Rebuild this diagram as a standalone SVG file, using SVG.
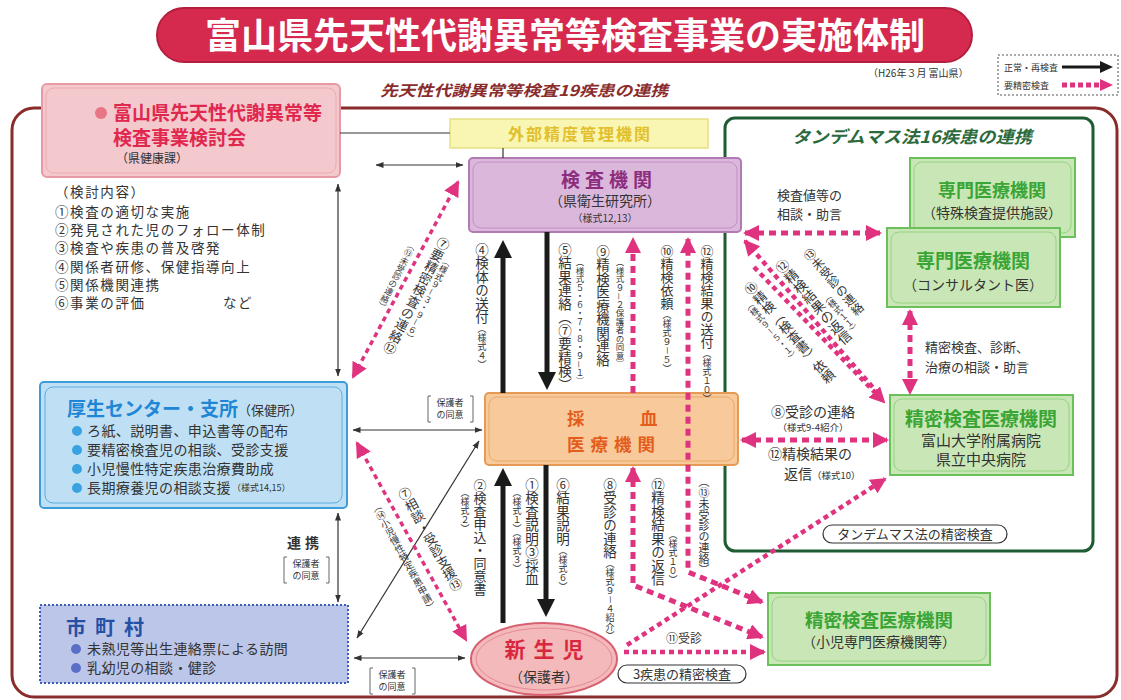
<svg xmlns="http://www.w3.org/2000/svg" width="1121" height="700" viewBox="0 0 1121 700">
<defs>
<style>
text{font-family:"Noto Sans CJK JP","Noto Sans CJK SC",sans-serif}
.v{writing-mode:vertical-rl}
.b{font-weight:bold}
.pk{stroke:#e0337f;stroke-width:5;stroke-dasharray:7 5;fill:none}
.pd{stroke:#e0337f;stroke-width:4.5;stroke-dasharray:5 4;fill:none}
.pl{stroke:#e0337f;stroke-width:3.5;stroke-dasharray:5 4;fill:none}
.th{stroke:#333;stroke-width:1.2;fill:none}
.tk{stroke:#1a1a1a;stroke-width:5;fill:none}
.gb{fill:#c9e7b6;stroke:#6cc05c;stroke-width:2}
.gi{fill:none;stroke:#93d283;stroke-width:1}
.gt{fill:#3aa535;font-weight:bold}
.br{fill:none;stroke:#666;stroke-width:1}
</style>
<marker id="ap" viewBox="0 0 16 16" markerWidth="16" markerHeight="16" refX="14" refY="8" orient="auto-start-reverse" markerUnits="userSpaceOnUse"><path d="M0,0 L16,8 L0,16 z" fill="#e0337f"/></marker>
<marker id="ak" viewBox="0 0 18 18" markerWidth="18" markerHeight="18" refX="2" refY="9" orient="auto-start-reverse" markerUnits="userSpaceOnUse"><path d="M0,0 L18,9 L0,18 z" fill="#1a1a1a"/></marker>
<marker id="at" viewBox="0 0 8 8" markerWidth="8" markerHeight="8" refX="7.5" refY="4" orient="auto-start-reverse" markerUnits="userSpaceOnUse"><path d="M0,1 L8,4 L0,7 z" fill="#333"/></marker>
</defs>
<rect width="1121" height="700" fill="#fff"/>
<g fill="#333">

<g id="title">
<rect x="157" y="8" width="815" height="54" rx="27" fill="#d52a4e" stroke="#b51f3e" stroke-width="2"/>
<text x="565" y="49" text-anchor="middle" font-size="36" class="b" fill="#fff">富山県先天性代謝異常等検査事業の実施体制</text>
</g>

<g id="legend">
<rect x="998" y="55" width="120" height="40" fill="#fff" stroke="#555" stroke-width="1" stroke-dasharray="2 2"/>
<text x="1004" y="71" font-size="9">正常・再検査</text>
<line x1="1062" y1="67" x2="1101" y2="67" stroke="#1a1a1a" stroke-width="3"/>
<polygon points="1100,61 1113,67 1100,73" fill="#1a1a1a"/>
<text x="1004" y="89" font-size="9">要精密検査</text>
<line x1="1062" y1="85" x2="1100" y2="85" stroke="#e0337f" stroke-width="5" stroke-dasharray="5 3"/>
<polygon points="1100,79 1113,85 1100,91" fill="#e0337f"/>
</g>

<text x="868" y="77" font-size="10">（H26年３月 富山県）</text>
<text x="380" y="96" font-size="15" class="b" font-style="italic" fill="#8a2c2c" textLength="288" lengthAdjust="spacingAndGlyphs">先天性代謝異常等検査19疾患の連携</text>

<g id="frame">
<rect x="12" y="108" width="1105" height="589" rx="22" fill="none" stroke="#8a2c2c" stroke-width="3"/>
</g>

<g id="tandem-area">
<rect x="725" y="118" width="368" height="433" rx="10" fill="none" stroke="#1f5c34" stroke-width="3"/>
<text x="792" y="143" font-size="17" class="b" font-style="italic" fill="#2b6a3c" textLength="240" lengthAdjust="spacingAndGlyphs">タンデムマス法16疾患の連携</text>
</g>

<g id="kentoukai">
<rect x="42" y="84" width="298" height="93" rx="5" fill="#f4c9cd" stroke="#e79aa3" stroke-width="2"/>
<rect x="46" y="88" width="290" height="85" rx="8" fill="none" stroke="#eeaab2" stroke-width="1"/>
<circle cx="101" cy="113" r="6" fill="#e87585"/>
<text x="113" y="120" font-size="19" class="b" fill="#e0284f">富山県先天性代謝異常等</text>
<text x="113" y="145" font-size="19" class="b" fill="#e0284f">検査事業検討会</text>
<text x="116" y="163" font-size="12">（県健康課）</text>
</g>

<g id="kentou-naiyou" font-size="13.5" letter-spacing="1.6">
<text x="55" y="197">（検討内容）</text>
<text x="55" y="217">①検査の適切な実施</text>
<text x="55" y="235">②発見された児のフォロー体制</text>
<text x="55" y="253">③検査や疾患の普及啓発</text>
<text x="55" y="272">④関係者研修、保健指導向上</text>
<text x="55" y="290">⑤関係機関連携</text>
<text x="55" y="308">⑥事業の評価</text>
<text x="223" y="308">など</text>
</g>

<g id="gaibu">
<rect x="450" y="119" width="258" height="29" fill="#f9f6b3" stroke="#e7df85" stroke-width="1.5"/>
<text x="580" y="140" font-size="16" letter-spacing="2" text-anchor="middle" class="b" fill="#e2bf2c">外部精度管理機関</text>
</g>

<g id="kensa-kikan">
<rect x="469" y="158" width="272" height="74" rx="4" fill="#dbb7dc" stroke="#b27ab3" stroke-width="2"/>
<rect x="473" y="162" width="264" height="66" rx="8" fill="none" stroke="#c490c5" stroke-width="1"/>
<text x="609" y="187" font-size="19" letter-spacing="5" text-anchor="middle" class="b" fill="#8c2d7e">検査機関</text>
<text x="605" y="206" font-size="14" text-anchor="middle">（県衛生研究所）</text>
<text x="605" y="222" font-size="10" text-anchor="middle">（様式12,13）</text>
</g>

<g id="senmon1">
<rect x="910" y="158" width="165" height="79" class="gb"/>
<rect x="914" y="162" width="157" height="71" rx="8" class="gi"/>
<text x="992" y="197" font-size="18" text-anchor="middle" class="gt">専門医療機関</text>
<text x="992" y="218" font-size="14" text-anchor="middle">（特殊検査提供施設）</text>
</g>

<g id="senmon2">
<rect x="887" y="228" width="173" height="79" class="gb"/>
<rect x="891" y="232" width="165" height="71" rx="8" class="gi"/>
<text x="973" y="268" font-size="19" text-anchor="middle" class="gt">専門医療機関</text>
<text x="973" y="290" font-size="14" text-anchor="middle">（コンサルタント医）</text>
</g>

<g id="seimitsu-tandem">
<rect x="890" y="395" width="183" height="80" class="gb"/>
<rect x="894" y="399" width="175" height="72" rx="8" class="gi"/>
<text x="981" y="426" font-size="19" text-anchor="middle" class="gt">精密検査医療機関</text>
<text x="981" y="446" font-size="15" text-anchor="middle">富山大学附属病院</text>
<text x="981" y="465" font-size="15" text-anchor="middle">県立中央病院</text>
</g>

<g id="tandem-pill">
<rect x="823" y="525" width="184" height="18" rx="9" fill="#fff" stroke="#333" stroke-width="1.2"/>
<text x="915" y="539" font-size="13" text-anchor="middle">タンデムマス法の精密検査</text>
</g>

<g id="seimitsu-shoni">
<rect x="768" y="593" width="222" height="72" class="gb"/>
<rect x="772" y="597" width="214" height="64" rx="8" class="gi"/>
<text x="879" y="627" font-size="18.5" text-anchor="middle" class="gt">精密検査医療機関</text>
<text x="879" y="647" font-size="14" text-anchor="middle">（小児専門医療機関等）</text>
</g>

<g id="three-pill">
<rect x="618" y="665" width="128" height="18" rx="9" fill="#fff" stroke="#333" stroke-width="1.2"/>
<text x="682" y="679" font-size="13" text-anchor="middle">3疾患の精密検査</text>
</g>

<g id="kousei">
<rect x="40" y="382" width="307" height="126" rx="4" fill="#bfe0f4" stroke="#3d9ddb" stroke-width="2"/>
<rect x="45" y="387" width="297" height="116" rx="8" fill="none" stroke="#5aaee0" stroke-width="1"/>
<text x="67" y="416" font-size="19" class="b" fill="#1f86d6">厚生センター・支所</text>
<text x="238" y="415" font-size="13">（保健所）</text>
<g fill="#3aa2e0"><circle cx="77" cy="431" r="5"/><circle cx="77" cy="450" r="5"/><circle cx="77" cy="469" r="5"/><circle cx="77" cy="488" r="5"/></g>
<g font-size="14" letter-spacing="0.4">
<text x="87" y="436">ろ紙、説明書、申込書等の配布</text>
<text x="87" y="455">要精密検査児の相談、受診支援</text>
<text x="87" y="474">小児慢性特定疾患治療費助成</text>
<text x="87" y="493">長期療養児の相談支援</text>
</g>
<text x="232" y="491" font-size="9">（様式14,15）</text>
</g>

<g id="shichoson">
<rect x="40" y="605" width="308" height="78" fill="#bcc6e8" stroke="#3d5cb8" stroke-width="2" stroke-dasharray="2 2"/>
<text x="66" y="635" font-size="20" letter-spacing="9" class="b" fill="#2451a6">市町村</text>
<g fill="#5a70c8"><circle cx="76" cy="649" r="5"/><circle cx="76" cy="668" r="5"/></g>
<text x="87" y="654" font-size="14" letter-spacing="0.4">未熟児等出生連絡票による訪問</text>
<text x="87" y="673" font-size="14" letter-spacing="0.4">乳幼児の相談・健診</text>
</g>

<g id="saiketsu">
<rect x="485" y="393" width="253" height="72" rx="4" fill="#f8c99b" stroke="#e59a55" stroke-width="2"/>
<rect x="489" y="397" width="245" height="64" rx="8" fill="none" stroke="#eaa96a" stroke-width="1"/>
<text x="567" y="425" font-size="17.5" class="b" fill="#e35d1c">採</text>
<text x="640" y="425" font-size="17.5" class="b" fill="#e35d1c">血</text>
<text x="567" y="451" font-size="17.5" letter-spacing="6" class="b" fill="#e35d1c">医療機関</text>
</g>

<g id="shinseiji">
<ellipse cx="544" cy="659" rx="73" ry="36" fill="#f3b9bb" stroke="#d66070" stroke-width="2"/>
<ellipse cx="544" cy="659" rx="68" ry="31" fill="none" stroke="#e48a95" stroke-width="1"/>
<text x="548" y="657" font-size="21" letter-spacing="8" text-anchor="middle" class="b" fill="#d8283d">新生児</text>
<text x="544" y="682" font-size="14" text-anchor="middle">（保護者）</text>
</g>

<g id="connectors">
<line x1="340" y1="133" x2="450" y2="133" class="th"/>
<line x1="503" y1="148" x2="503" y2="158" class="th"/>
<line x1="376" y1="165" x2="463" y2="165" class="th" marker-start="url(#at)" marker-end="url(#at)"/>
<line x1="338" y1="184" x2="338" y2="376" class="th" marker-start="url(#at)" marker-end="url(#at)"/>
<line x1="353" y1="430" x2="482" y2="430" class="th" marker-start="url(#at)" marker-end="url(#at)"/>
<line x1="338" y1="513" x2="338" y2="602" class="th" marker-start="url(#at)" marker-end="url(#at)"/>
<line x1="357" y1="638" x2="479" y2="441" class="th" marker-start="url(#at)" marker-end="url(#at)"/>
<line x1="354" y1="658" x2="465" y2="658" class="th" marker-start="url(#at)" marker-end="url(#at)"/>

<line x1="503" y1="393" x2="503" y2="256" class="tk" marker-end="url(#ak)"/>
<line x1="547" y1="232" x2="547" y2="374" class="tk" marker-end="url(#ak)"/>
<line x1="503" y1="623" x2="503" y2="484" class="tk" marker-end="url(#ak)"/>
<line x1="546" y1="465" x2="546" y2="601" class="tk" marker-end="url(#ak)"/>

<line x1="633" y1="393" x2="633" y2="239" class="pk" marker-end="url(#ap)"/>
<path d="M762,602 L688,572 L688,239" class="pk" marker-start="url(#ap)" marker-end="url(#ap)"/>
<path d="M633,468 L633,585 L762,637" class="pk" marker-start="url(#ap)" marker-end="url(#ap)"/>
<line x1="624" y1="652" x2="764" y2="652" class="pd" marker-end="url(#ap)"/>
<line x1="627" y1="645" x2="885" y2="479" class="pd" marker-end="url(#ap)"/>
<line x1="742" y1="440" x2="887" y2="440" class="pk" marker-start="url(#ap)" marker-end="url(#ap)"/>
<line x1="745" y1="233" x2="880" y2="233" class="pk" marker-start="url(#ap)" marker-end="url(#ap)"/>
<line x1="910" y1="311" x2="910" y2="393" class="pk" marker-start="url(#ap)" marker-end="url(#ap)"/>
<line x1="745" y1="241" x2="876" y2="391" class="pd" marker-start="url(#ap)"/>
<line x1="754" y1="267" x2="884" y2="402" class="pd" marker-end="url(#ap)"/>
<line x1="458" y1="182" x2="353" y2="377" class="pl" marker-start="url(#ap)" marker-end="url(#ap)"/>
<line x1="357" y1="443" x2="466" y2="640" class="pl" marker-start="url(#ap)" marker-end="url(#ap)"/>
</g>

<g id="connector-labels">
<text class="v" x="482" y="243" font-size="13.5">④検体の送付<tspan font-size="9">（様式４）</tspan></text>
<text class="v" x="565" y="243" font-size="13.5">⑤結果連絡（⑦要精検）</text>
<text class="v" x="580" y="258" font-size="8.5">（様式５・６・７・８・９－１）</text>
<text class="v" x="603" y="245" font-size="13.5">⑨精検医療機関連絡</text>
<text class="v" x="620" y="258" font-size="8.5">（様式９－２保護者の同意）</text>
<text class="v" x="667" y="245" font-size="13">⑩精検依頼<tspan font-size="9">（様式９－５）</tspan></text>
<text class="v" x="707" y="245" font-size="13">⑫精検結果の送付<tspan font-size="9">（様式１０）</tspan></text>

<text class="v" x="480" y="479" font-size="13">②検査申込・同意書</text>
<text class="v" x="465" y="488" font-size="9">（様式２）</text>
<text class="v" x="532" y="478" font-size="13.5">①検査説明③採血</text>
<text class="v" x="517" y="488" font-size="9">（様式１）（様式３）</text>
<text class="v" x="563" y="478" font-size="13.5">⑥結果説明<tspan font-size="9">（様式６）</tspan></text>
<text class="v" x="610" y="478" font-size="13.5">⑧受診の連絡<tspan font-size="9">（様式９－４紹介）</tspan></text>
<text class="v" x="658" y="478" font-size="13.5">⑫精検結果の返信</text>
<text class="v" x="673" y="530" font-size="9">（様式１０）</text>
<text class="v" x="704" y="476" font-size="11">（⑬未受診の連絡）</text>

<text class="v" transform="translate(446,238) rotate(27)" font-size="13">⑦要精密検査の連絡⑫</text>
<text class="v" transform="translate(449,258) rotate(27)" font-size="8.5">（様式９－３・９－６）</text>
<text class="v" transform="translate(414,242) rotate(27)" font-size="8.5">（⑬未受診の連絡）</text>

<text class="v" transform="translate(402,488) rotate(-29)" font-size="13">⑦相談・受診支援⑬</text>
<text class="v" transform="translate(374,503) rotate(-29)" font-size="9.5">（⑭小児慢性特定疾患申請）</text>

<text class="v" transform="translate(806,250) rotate(-41)" font-size="12">⑬未受診の連絡</text>
<text class="v" transform="translate(824,294) rotate(-41)" font-size="8.5">（様式１１）</text>
<text class="v" transform="translate(778,261) rotate(-41)" font-size="13.5">⑫精検結果の返信</text>
<text class="v" transform="translate(747,283) rotate(-41)" font-size="13">⑩精検（検査書）依頼</text>
<text class="v" transform="translate(746,302) rotate(-41)" font-size="8.5">（様式９－５・１）</text>

<text x="777" y="200" font-size="13">検査値等の</text>
<text x="777" y="219" font-size="13">相談・助言</text>
<text x="925" y="352" font-size="13">精密検査、診断、</text>
<text x="925" y="372" font-size="13">治療の相談・助言</text>
<text x="813" y="417" font-size="14" text-anchor="middle">⑧受診の連絡</text>
<text x="813" y="431" font-size="9.5" text-anchor="middle">（様式9-4紹介）</text>
<text x="768" y="459" font-size="14">⑫精検結果の</text>
<text x="784" y="479" font-size="14">返信<tspan font-size="9.5">（様式10）</tspan></text>
<text x="666" y="643" font-size="12">⑪受診</text>

<text x="305" y="548" font-size="14" letter-spacing="4" text-anchor="middle" class="b">連携</text>
<path d="M431,396 h-3 v26 h3 M470,396 h3 v26 h-3" class="br"/>
<text x="450" y="406" font-size="9" text-anchor="middle">保護者</text>
<text x="450" y="418" font-size="9" text-anchor="middle">の同意</text>
<path d="M287,557 h-3 v26 h3 M326,557 h3 v26 h-3" class="br"/>
<text x="306" y="567" font-size="9" text-anchor="middle">保護者</text>
<text x="306" y="579" font-size="9" text-anchor="middle">の同意</text>
<path d="M373,668 h-3 v26 h3 M412,668 h3 v26 h-3" class="br"/>
<text x="392" y="678" font-size="9" text-anchor="middle">保護者</text>
<text x="392" y="690" font-size="9" text-anchor="middle">の同意</text>
</g>

</g>
</svg>
